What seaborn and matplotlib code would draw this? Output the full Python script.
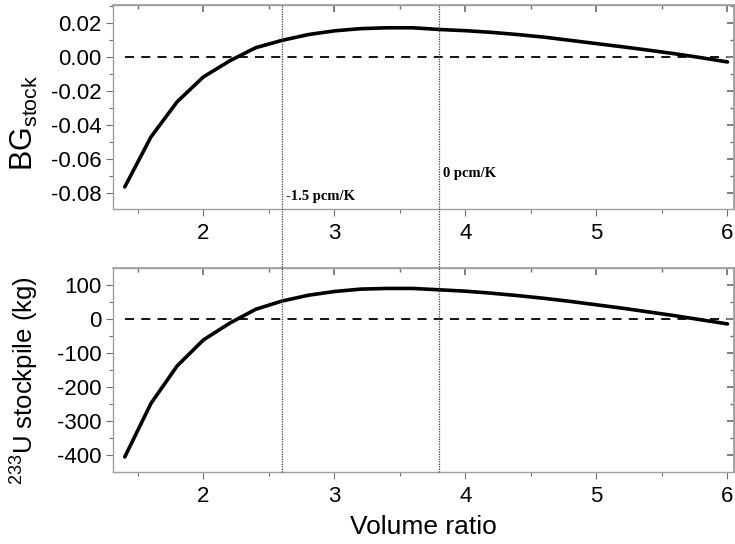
import numpy as np
import pandas as pd
import matplotlib
matplotlib.use("Agg")
import matplotlib.pyplot as plt
import matplotlib.transforms as mtransforms
from matplotlib.lines import Line2D
from matplotlib.ticker import MultipleLocator, FormatStrFormatter
import seaborn as sns

# ---- data ----
volume_ratio = [1.4, 1.6, 1.8, 2.0, 2.2, 2.4, 2.6, 2.8, 3.0, 3.2, 3.4, 3.6,
                3.8, 4.0, 4.2, 4.4, 4.6, 4.8, 5.0, 5.2, 5.4, 5.6, 5.8, 6.0]
bg_stock = [-0.0766, -0.0472, -0.0265, -0.0119, -0.0025, 0.0053, 0.0096, 0.0130,
            0.0152, 0.0165, 0.0170, 0.0170, 0.0160, 0.0153, 0.0143, 0.0130,
            0.0115, 0.0096, 0.0077, 0.0058, 0.0038, 0.0017, -0.0006, -0.0031]
u233_stockpile = [-405, -248, -138, -62, -13, 28, 52, 69, 80, 87, 89, 89,
                  85, 81, 75, 68, 60, 51, 41, 31, 20, 9, -3, -15]
zero_x = [1.4, 6.0]
zero_y = [0, 0]
coef_x = [2.6, 3.8]
coef_labels = ["-1.5 pcm/K", "0 pcm/K"]
coef_label_y = [-0.082, -0.0685]
x_ticks = [2, 3, 4, 5, 6]

df = pd.DataFrame({"vr": volume_ratio, "bg": bg_stock, "u": u233_stockpile})
dz = pd.DataFrame({"x": zero_x, "y": zero_y})

sns.set_theme(style="white")
plt.rcParams["font.family"] = ["Liberation Sans", "DejaVu Sans"]
plt.rcParams["mathtext.default"] = "regular"
plt.rcParams["axes.unicode_minus"] = False
plt.rcParams["text.color"] = "black"
plt.rcParams["axes.labelcolor"] = "black"

fig = plt.figure(figsize=(7.35, 5.44), dpi=100)
ax1 = fig.add_axes([0.1537, 0.6158, 0.845, 0.375])
ax2 = fig.add_axes([0.1537, 0.1324, 0.845, 0.375])

spine_col = "#a0a0a0"
tick_col = "#707070"

def style(ax, ylim, ymajor, yminor):
    ax.set_xlim(1.31, 6.05)
    ax.set_ylim(*ylim)
    ax.set_xticks(x_ticks)
    ax.xaxis.set_minor_locator(MultipleLocator(0.5))
    ax.yaxis.set_major_locator(MultipleLocator(ymajor))
    ax.yaxis.set_minor_locator(MultipleLocator(yminor))
    for s in ax.spines.values():
        s.set_color(spine_col)
        s.set_linewidth(1.0)
    ax.tick_params(axis="both", which="both", direction="out", color=tick_col,
                   labelsize=16, labelcolor="black", bottom=True, left=True)
    ax.tick_params(which="major", length=5, width=0.8)
    ax.tick_params(which="minor", length=3, width=0.8)
    ax.tick_params(axis="x", pad=5)
    secx = ax.secondary_xaxis("top")
    secx.set_xticks(x_ticks)
    secx.xaxis.set_minor_locator(MultipleLocator(0.5))
    secx.tick_params(which="both", direction="in", labeltop=False, color=tick_col)
    secx.tick_params(which="major", length=5)
    secx.tick_params(which="minor", length=3)
    secx.spines["top"].set_color(spine_col)
    secy = ax.secondary_yaxis("right")
    secy.yaxis.set_major_locator(MultipleLocator(ymajor))
    secy.yaxis.set_minor_locator(MultipleLocator(yminor))
    secy.tick_params(which="both", direction="in", labelright=False, color=tick_col)
    secy.tick_params(which="major", length=5)
    secy.tick_params(which="minor", length=3)
    secy.spines["right"].set_color(spine_col)

sns.lineplot(data=df, x="vr", y="bg", ax=ax1, color="black", linewidth=2.6)
sns.lineplot(data=dz, x="x", y="y", ax=ax1, color="black", linewidth=1.3,
             linestyle=(0, (5, 4)))
style(ax1, (-0.0896, 0.0304), 0.02, 0.01)
ax1.yaxis.set_major_formatter(FormatStrFormatter("%.2f"))
ax1.set_xlabel("")
ax1.set_ylabel(r"BG$_{stock}$", fontsize=22)
ax1.yaxis.set_label_coords(-0.118, 0.42)

sns.lineplot(data=df, x="vr", y="u", ax=ax2, color="black", linewidth=2.6)
sns.lineplot(data=dz, x="x", y="y", ax=ax2, color="black", linewidth=1.3,
             linestyle=(0, (5, 4)))
style(ax2, (-449, 149), 100, 50)
ax2.set_xlabel("Volume ratio", fontsize=19, labelpad=6)
ax2.set_ylabel(r"$^{233}$U stockpile (kg)", fontsize=18.5)
ax2.yaxis.set_label_coords(-0.116, 0.446)

# vertical dotted reference lines spanning both panels
trans = mtransforms.blended_transform_factory(ax1.transData, fig.transFigure)
y_top = 0.6158 + 0.375
y_bot = 0.1324
for xv in coef_x:
    fig.add_artist(Line2D([xv, xv], [y_bot, y_top], transform=trans,
                          color="#404040", linewidth=0.9, linestyle=(0, (1, 1))))

for xv, lab, yv in zip(coef_x, coef_labels, coef_label_y):
    ax1.text(xv + 0.03, yv, lab, fontsize=10.5, fontweight="bold",
             family=["Liberation Serif"], ha="left", va="center", color="black")

fig.savefig("out.png", dpi=100)
